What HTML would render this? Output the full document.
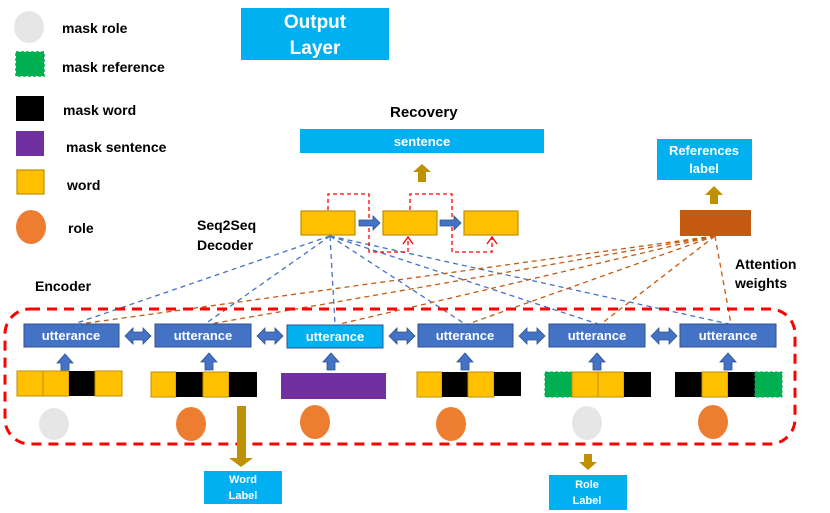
<!DOCTYPE html>
<html><head><meta charset="utf-8"><style>
body{margin:0;background:#fff}
svg{display:block;font-family:"Liberation Sans",Arial,sans-serif;font-weight:bold}
</style></head><body>
<svg width="830" height="513" viewBox="0 0 830 513" xmlns="http://www.w3.org/2000/svg">
<defs>
<g id="up"><polygon points="-4,0 4,0 4,-8 8,-8 0,-17 -8,-8 -4,-8" fill="#4472c4" stroke="#2f528f" stroke-width="0.8"/></g>
<g id="dbl"><polygon points="0,0 8,-8 8,-4 18,-4 18,-8 26,0 18,8 18,4 8,4 8,8" fill="#4472c4" stroke="#2f528f" stroke-width="0.8"/></g>
</defs>
<!-- legend -->
<ellipse cx="29" cy="27" rx="15" ry="16" fill="#e7e6e6"/>
<text x="62" y="33" font-size="14">mask role</text>
<rect x="16" y="52" width="28" height="24" fill="#00b050" stroke="#00b050" stroke-dasharray="3,2" stroke-width="1.5"/>
<text x="62" y="72" font-size="14">mask reference</text>
<rect x="16" y="96" width="28" height="25" fill="#000"/>
<text x="63" y="115" font-size="14">mask word</text>
<rect x="16" y="131" width="28" height="25" fill="#7030a0"/>
<text x="66" y="152" font-size="14">mask sentence</text>
<rect x="17" y="170" width="27" height="24" fill="#ffc000" stroke="#bf9000" stroke-width="1.2"/>
<text x="67" y="190" font-size="14">word</text>
<ellipse cx="31" cy="227" rx="15" ry="17" fill="#ed7d31"/>
<text x="68" y="233" font-size="14">role</text>
<!-- output layer -->
<rect x="241" y="8" width="148" height="52" fill="#00b0f0"/>
<text x="315" y="28" font-size="19" fill="#fff" text-anchor="middle">Output</text>
<text x="315" y="54" font-size="19" fill="#fff" text-anchor="middle">Layer</text>
<text x="390" y="117" font-size="15">Recovery</text>
<rect x="300" y="129" width="244" height="24" fill="#00b0f0"/>
<text x="422" y="146" font-size="13" fill="#fff" text-anchor="middle">sentence</text>
<polygon points="418,182 426,182 426,172 431,172 422,164 413,172 418,172" fill="#bf9000"/>
<!-- references -->
<rect x="657" y="139" width="95" height="41" fill="#00b0f0"/>
<text x="704" y="155" font-size="13" fill="#fff" text-anchor="middle">References</text>
<text x="704" y="173" font-size="13" fill="#fff" text-anchor="middle">label</text>
<polygon points="710,204 718,204 718,195 723,195 714,186 705,195 710,195" fill="#bf9000"/>
<rect x="680" y="210" width="71" height="26" fill="#c55a11"/>
<text x="197" y="230" font-size="14">Seq2Seq</text>
<text x="197" y="250" font-size="14">Decoder</text>
<text x="735" y="269" font-size="14">Attention</text>
<text x="735" y="288" font-size="14">weights</text>
<text x="35" y="291" font-size="14">Encoder</text>
<!-- dashed lines -->
<g stroke="#4472c4" stroke-width="1.3" stroke-dasharray="5,4" fill="none">
<line x1="330" y1="236" x2="74" y2="324"/><line x1="330" y1="236" x2="205" y2="324"/>
<line x1="330" y1="236" x2="335" y2="324"/><line x1="330" y1="236" x2="465" y2="324"/>
<line x1="330" y1="236" x2="598" y2="324"/><line x1="330" y1="236" x2="729" y2="324"/>
</g>
<g stroke="#c55a11" stroke-width="1.3" stroke-dasharray="5,4" fill="none">
<line x1="715" y1="236" x2="80" y2="324"/><line x1="715" y1="236" x2="210" y2="324"/>
<line x1="715" y1="236" x2="340" y2="324"/><line x1="715" y1="236" x2="468" y2="324"/>
<line x1="715" y1="236" x2="601" y2="324"/><line x1="715" y1="236" x2="731" y2="324"/>
</g>
<!-- decoder -->
<g stroke="#ff0000" stroke-width="1.3" stroke-dasharray="4,3" fill="none">
<polyline points="328,210 328,194 369,194 369,252 408,252 408,237"/>
<polyline points="410,210 410,194 452,194 452,252 492,252 492,237"/>
</g>
<g stroke="#ff0000" stroke-width="1.3" fill="none">
<polyline points="403,244 408,237 413,244"/><polyline points="487,244 492,237 497,244"/>
</g>
<rect x="301" y="211" width="54" height="24" fill="#ffc000" stroke="#bf9000" stroke-width="1.2"/>
<rect x="383" y="211" width="54" height="24" fill="#ffc000" stroke="#bf9000" stroke-width="1.2"/>
<rect x="464" y="211" width="54" height="24" fill="#ffc000" stroke="#bf9000" stroke-width="1.2"/>
<polygon points="359,220 373,220 373,216 380,223 373,230 373,226 359,226" fill="#4472c4" stroke="#2f528f" stroke-width="0.8"/>
<polygon points="440,220 454,220 454,216 461,223 454,230 454,226 440,226" fill="#4472c4" stroke="#2f528f" stroke-width="0.8"/>
<!-- big dashed rect -->
<rect x="5" y="309" width="790" height="135" rx="25" fill="none" stroke="#ff0000" stroke-width="3" stroke-dasharray="10,7"/>
<!-- utterances -->
<g font-size="13" fill="#fff" text-anchor="middle">
<rect x="24" y="324" width="95" height="23" fill="#4472c4" stroke="#2f528f"/><text x="71" y="340">utterance</text>
<rect x="155" y="324" width="96" height="23" fill="#4472c4" stroke="#2f528f"/><text x="203" y="340">utterance</text>
<rect x="287" y="325" width="96" height="23" fill="#00b0f0" stroke="#2f528f"/><text x="335" y="341">utterance</text>
<rect x="418" y="324" width="95" height="23" fill="#4472c4" stroke="#2f528f"/><text x="465" y="340">utterance</text>
<rect x="549" y="324" width="96" height="23" fill="#4472c4" stroke="#2f528f"/><text x="597" y="340">utterance</text>
<rect x="680" y="324" width="96" height="23" fill="#4472c4" stroke="#2f528f"/><text x="728" y="340">utterance</text>
</g>
<use href="#dbl" x="125" y="336"/><use href="#dbl" x="257" y="336"/><use href="#dbl" x="389" y="336"/>
<use href="#dbl" x="519" y="336"/><use href="#dbl" x="651" y="336"/>
<use href="#up" x="65" y="371"/><use href="#up" x="209" y="370"/><use href="#up" x="331" y="370"/>
<use href="#up" x="465" y="370"/><use href="#up" x="597" y="370"/><use href="#up" x="728" y="370"/>
<!-- tokens -->
<g stroke="#bf9000" stroke-width="1">
<rect x="17" y="371" width="26" height="25" fill="#ffc000"/><rect x="43" y="371" width="26" height="25" fill="#ffc000"/><rect x="69" y="371" width="26" height="25" fill="#000" stroke="none"/><rect x="95" y="371" width="27" height="25" fill="#ffc000"/>
<rect x="151" y="372" width="25" height="25" fill="#ffc000"/><rect x="176" y="372" width="27" height="25" fill="#000" stroke="none"/><rect x="203" y="372" width="26" height="25" fill="#ffc000"/><rect x="229" y="372" width="28" height="25" fill="#000" stroke="none"/>
<rect x="417" y="372" width="25" height="25" fill="#ffc000"/><rect x="442" y="372" width="26" height="25" fill="#000" stroke="none"/><rect x="468" y="372" width="26" height="25" fill="#ffc000"/><rect x="494" y="372" width="27" height="24" fill="#000" stroke="none"/>
<rect x="545" y="372" width="27" height="25" fill="#00b050" stroke="#00b050" stroke-dasharray="3,2"/><rect x="572" y="372" width="26" height="25" fill="#ffc000"/><rect x="598" y="372" width="26" height="25" fill="#ffc000"/><rect x="624" y="372" width="27" height="25" fill="#000" stroke="none"/>
<rect x="675" y="372" width="27" height="25" fill="#000" stroke="none"/><rect x="702" y="372" width="26" height="25" fill="#ffc000"/><rect x="728" y="372" width="27" height="25" fill="#000" stroke="none"/><rect x="755" y="372" width="27" height="25" fill="#00b050" stroke="#00b050" stroke-dasharray="3,2"/>
</g>
<rect x="281" y="373" width="105" height="26" fill="#7030a0"/>
<!-- circles -->
<ellipse cx="54" cy="424" rx="15" ry="16" fill="#e7e6e6"/>
<ellipse cx="191" cy="424" rx="15" ry="17" fill="#ed7d31"/>
<ellipse cx="315" cy="422" rx="15" ry="17" fill="#ed7d31"/>
<ellipse cx="451" cy="424" rx="15" ry="17" fill="#ed7d31"/>
<ellipse cx="587" cy="423" rx="15" ry="17" fill="#e7e6e6"/>
<ellipse cx="713" cy="422" rx="15" ry="17" fill="#ed7d31"/>
<!-- labels -->
<polygon points="237,406 246,406 246,458 253,458 241,467 229,458 237,458" fill="#bf9000"/>
<rect x="204" y="471" width="78" height="33" fill="#00b0f0"/>
<text x="243" y="483" font-size="11" fill="#fff" text-anchor="middle">Word</text>
<text x="243" y="499" font-size="11" fill="#fff" text-anchor="middle">Label</text>
<polygon points="584,454 592,454 592,462 597,462 588,470 579,462 584,462" fill="#bf9000"/>
<rect x="549" y="475" width="78" height="35" fill="#00b0f0"/>
<text x="587" y="488" font-size="11" fill="#fff" text-anchor="middle">Role</text>
<text x="587" y="504" font-size="11" fill="#fff" text-anchor="middle">Label</text>
</svg>
</body></html>
